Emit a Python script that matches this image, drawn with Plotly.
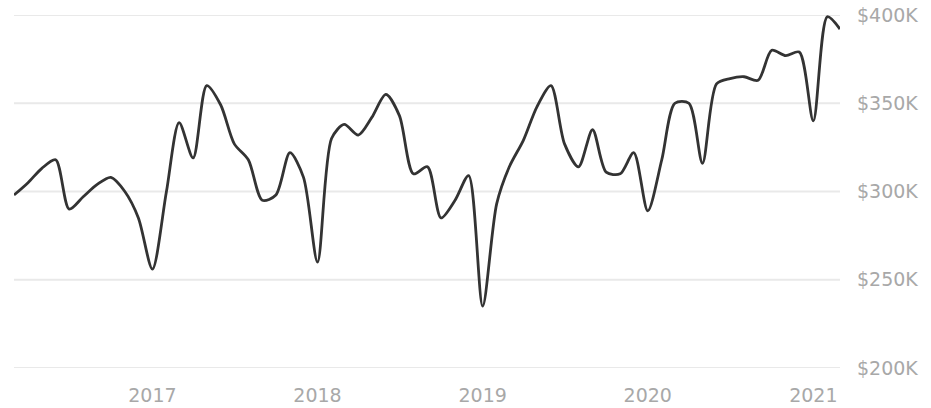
import plotly.graph_objects as go
import pandas as pd

# Monthly dates, March 2016 .. March 2021
months = [d.strftime("%Y-%m-%d") for d in pd.date_range("2016-03-01", "2021-03-01", freq="MS")]

# Values in $K
values_k = [
    298, 305, 313, 318, 290, 297, 304, 308, 300, 285,   # 2016-03 .. 2016-12
    256, 300, 339, 319, 360, 349, 327, 318, 295, 298,   # 2017-01 .. 2017-10
    322, 308,                                           # 2017-11 .. 2017-12
    260, 330, 338, 332, 342, 355, 343, 310, 314, 285,   # 2018-01 .. 2018-10
    295, 309,                                           # 2018-11 .. 2018-12
    235, 293, 314, 329, 348, 360, 327, 314, 335, 311,   # 2019-01 .. 2019-10
    310, 322,                                           # 2019-11 .. 2019-12
    289, 318, 350, 350, 316, 361, 364, 365, 363, 380,   # 2020-01 .. 2020-10
    377, 379,                                           # 2020-11 .. 2020-12
    340, 399, 392,                                      # 2021-01 .. 2021-03
]
values = [v * 1000 for v in values_k]

y_ticks = [200000, 250000, 300000, 350000, 400000]
y_tick_labels = ["$200K", "$250K", "$300K", "$350K", "$400K"]
x_ticks = ["2017-01-01", "2018-01-01", "2019-01-01", "2020-01-01", "2021-01-01"]
x_tick_labels = ["2017", "2018", "2019", "2020", "2021"]

fig = go.Figure()
fig.add_trace(go.Scatter(
    x=months, y=values, mode="lines",
    line=dict(color="#333333", width=2.8, shape="spline", smoothing=0.8),
    hoverinfo="skip", cliponaxis=False,
))

# horizontal grid lines (including the edge ones at $200K / $400K)
for yv in y_ticks:
    fig.add_shape(type="line", xref="paper", x0=0, x1=1, yref="y", y0=yv, y1=yv,
                  line=dict(color="#e9e9e9", width=2), layer="below")

font_family = "DejaVu Sans"
label_font = dict(family=font_family, size=19, color="#a8a8a8")
fig.update_layout(
    width=931, height=408,
    margin=dict(l=14, r=91, t=15, b=40),
    paper_bgcolor="white", plot_bgcolor="white",
    showlegend=False,
    font=label_font,
    xaxis=dict(
        type="date",
        range=["2016-03-01", "2021-03-01"],
        tickmode="array", tickvals=x_ticks, ticktext=x_tick_labels,
        showgrid=False, zeroline=False, showline=False,
        ticks="", ticklabelstandoff=14, automargin=False,
        tickfont=label_font,
        fixedrange=True,
    ),
    yaxis=dict(
        side="right",
        range=[200000, 400000],
        tickmode="array", tickvals=y_ticks, ticktext=y_tick_labels,
        showgrid=False, zeroline=False, showline=False,
        ticks="", ticklabelstandoff=16, automargin=False,
        tickfont=label_font,
        fixedrange=True,
    ),
)

fig.write_html("out.html", config={"displayModeBar": False})
